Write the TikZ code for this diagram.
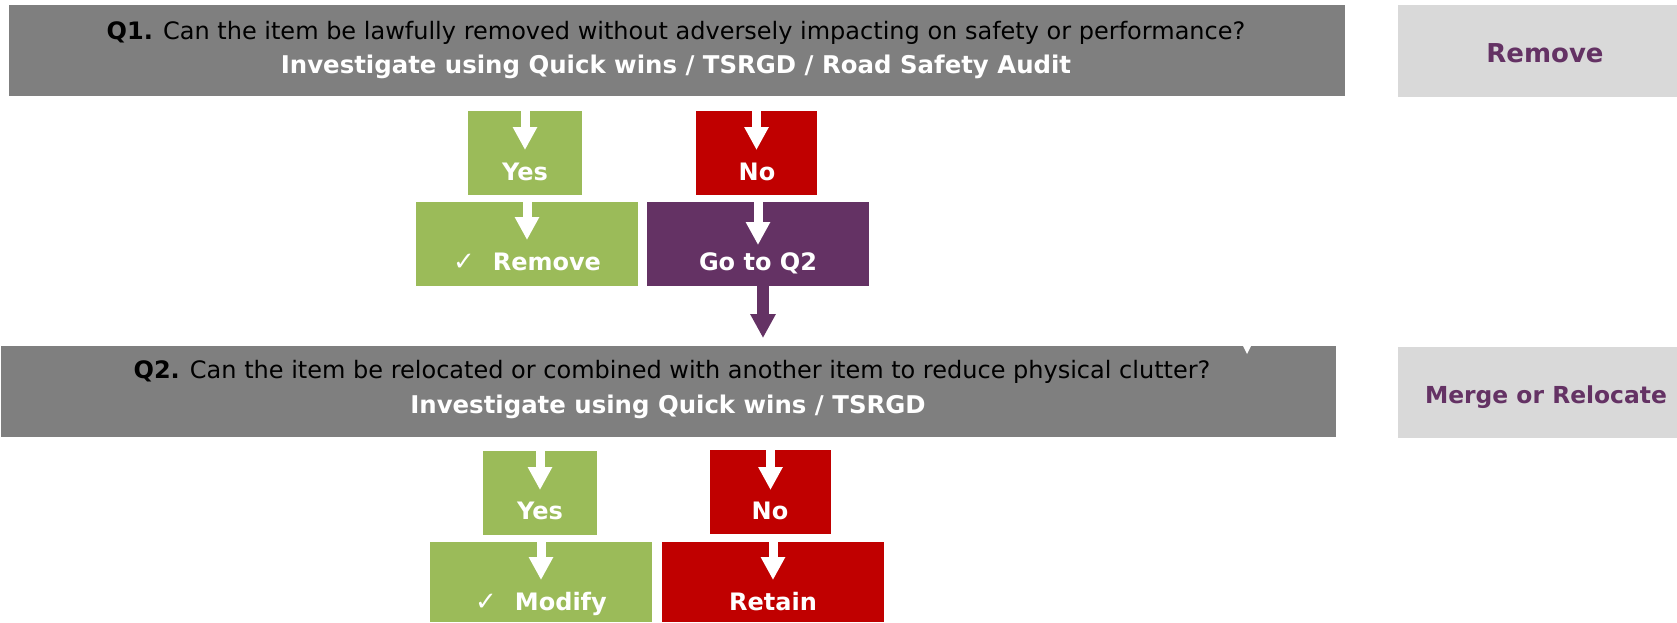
\documentclass[tikz,border=0pt]{standalone}
\usepackage{fontspec}
\setmainfont{DejaVu Sans}
\usetikzlibrary{arrows.meta,calc}
\definecolor{qgray}{RGB}{127,127,127}
\definecolor{lgray}{RGB}{217,217,217}
\definecolor{ygreen}{RGB}{155,187,89}
\definecolor{nred}{RGB}{192,0,0}
\definecolor{dpurple}{RGB}{100,50,100}
\begin{document}
\begin{tikzpicture}[x=0.5pt,y=-0.5pt,
  box/.style={rectangle, inner sep=0pt, outer sep=0pt, anchor=north west, draw=none},
  sz/.style 2 args={minimum width=#1*0.5pt, minimum height=#2*0.5pt},
  qbox/.style={box, fill=qgray},
  sidebox/.style={box, fill=lgray},
  yesbox/.style={box, fill=ygreen},
  nobox/.style={box, fill=nred},
  gobox/.style={box, fill=dpurple},
  lbl/.style={anchor=base, inner sep=0pt, text=white, font=\bfseries\fontsize{12}{14}\selectfont},
  qtext/.style={anchor=base, inner sep=0pt, text=black, font=\fontsize{12}{14}\selectfont},
  qsub/.style={anchor=base, inner sep=0pt, text=white, font=\bfseries\fontsize{12.2}{14}\selectfont},
  sidetext/.style={anchor=base, inner sep=0pt, text=dpurple, font=\bfseries\fontsize{#1}{15}\selectfont},
  warrow/.style={white, line width=4.5pt, -{Triangle[width=11.5pt,length=11.5pt]}},
  parrow/.style={dpurple, line width=6pt, -{Triangle[width=12pt,length=12pt]}}
]
\useasboundingbox (0,0) rectangle (1677,622);

% boxes
\node[qbox, sz={1336}{91}] (q1) at (9,5) {};
\node[sidebox, sz={279}{92}] (rem) at (1398,5) {};
\node[yesbox, sz={114}{84}] (yes1) at (468,111) {};
\node[nobox, sz={121}{84}] (no1) at (696,111) {};
\node[yesbox, sz={222}{84}] (remg) at (416,202) {};
\node[gobox, sz={222}{84}] (goto) at (647,202) {};
\node[qbox, sz={1335}{91}] (q2) at (1,346) {};
\node[sidebox, sz={279}{91}] (merge) at (1398,347) {};
\node[yesbox, sz={114}{84}] (yes2) at (483,451) {};
\node[nobox, sz={121}{84}] (no2) at (710,450) {};
\node[yesbox, sz={222}{80}] (mod) at (430,542) {};
\node[nobox, sz={222}{80}] (ret) at (662,542) {};

% notch
\fill[white] (1243,346) -- (1251,346) -- (1247,354) -- cycle;

% texts
\node[qtext] (q1a) at (676,39) {{\bfseries Q1.} Can the item be lawfully removed without adversely impacting on safety or performance?};
\node[qsub] (q1b) at (676,73) {Investigate using Quick wins / TSRGD / Road Safety Audit};
\node[sidetext=13] (remt) at (1545,62) {Remove};
\node[lbl] (yes1t) at (525,180) {Yes};
\node[lbl] (no1t) at (757,180) {No};
\node[lbl] (remgt) at (527,270) {{\mdseries\fontsize{13}{14}\selectfont ✓}\hspace{9pt}Remove};
\node[lbl] (gotot) at (758,270) {Go to Q2};
\node[qtext] (q2a) at (672,378) {{\bfseries Q2.} Can the item be relocated or combined with another item to reduce physical clutter?};
\node[qsub] (q2b) at (668,413) {Investigate using Quick wins / TSRGD};
\node[sidetext=11.7] (merget) at (1546,403) {Merge or Relocate};
\node[lbl] (yes2t) at (540,519) {Yes};
\node[lbl] (no2t) at (770,519) {No};
\node[lbl] (modt) at (541,610) {{\mdseries\fontsize{13}{14}\selectfont ✓}\hspace{9pt}Modify};
\node[lbl] (rett) at (773,610) {Retain};

% arrows
\draw[warrow] (yes1.north) -- ++(0,39);
\draw[warrow] (no1.north) -- ++(0,39);
\draw[warrow] (remg.north) -- ++(0,38);
\draw[warrow] (goto.north) -- ++(0,43);
\draw[warrow] (yes2.north) -- ++(0,39);
\draw[warrow] (no2.north) -- ++(0,40);
\draw[warrow] (mod.north) -- ++(0,38);
\draw[warrow] (ret.north) -- ++(0,38);
\draw[parrow] ([xshift=2.5pt]goto.south) -- ++(0,52);
\end{tikzpicture}
\end{document}
